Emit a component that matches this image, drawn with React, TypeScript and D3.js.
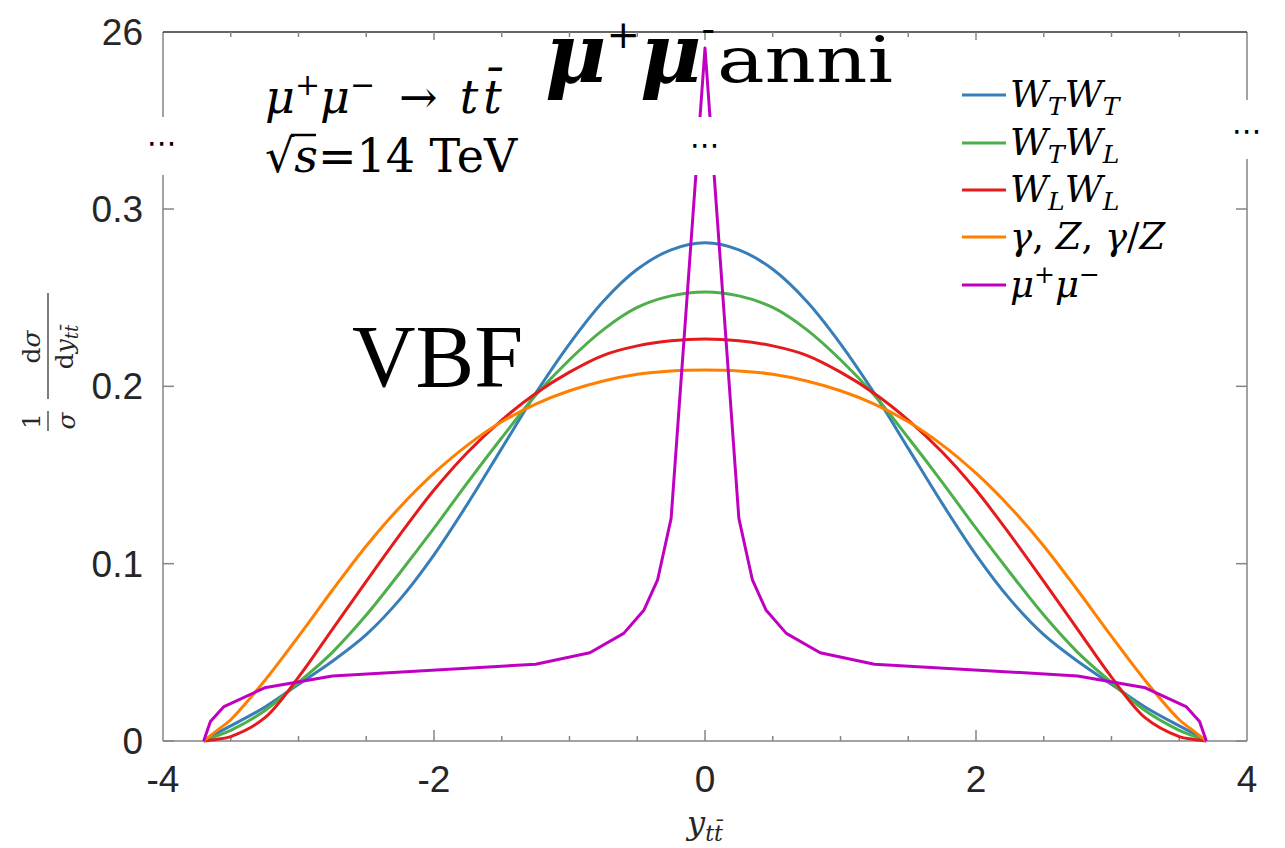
import React from "react";
import * as d3 from "d3";

// rapidity grid used for the VBF curves
const rapidity = [
  -3.7, -3.6, -3.5, -3.25, -3.0, -2.75, -2.5, -2.25, -2.0, -1.75, -1.5, -1.25, -1.0, -0.75, -0.5, -0.25, 0,
  0.25, 0.5, 0.75, 1.0, 1.25, 1.5, 1.75, 2.0, 2.25, 2.5, 2.75, 3.0, 3.25, 3.5, 3.6, 3.7,
];

const wtwt = [
  0, 0.0045, 0.0085, 0.019, 0.032, 0.045, 0.06, 0.08, 0.105, 0.134, 0.165, 0.196, 0.224, 0.248, 0.266, 0.277, 0.281,
  0.277, 0.266, 0.248, 0.224, 0.196, 0.165, 0.134, 0.105, 0.08, 0.06, 0.045, 0.032, 0.019, 0.0085, 0.0045, 0,
];
const wtwl = [
  0, 0.003, 0.006, 0.017, 0.033, 0.05, 0.071, 0.095, 0.12, 0.146, 0.171, 0.195, 0.215, 0.232, 0.2445, 0.251, 0.2532,
  0.251, 0.2445, 0.232, 0.215, 0.195, 0.171, 0.146, 0.12, 0.095, 0.071, 0.05, 0.033, 0.017, 0.006, 0.003, 0,
];
const wlwl = [
  0, 0.001, 0.0025, 0.013, 0.036, 0.063, 0.09, 0.1165, 0.1415, 0.163, 0.181, 0.196, 0.208, 0.2175, 0.2228, 0.2257, 0.2267,
  0.2257, 0.2228, 0.2175, 0.208, 0.196, 0.181, 0.163, 0.1415, 0.1165, 0.09, 0.063, 0.036, 0.013, 0.0025, 0.001, 0,
];
const gammaZ = [
  0, 0.006, 0.012, 0.034, 0.059, 0.085, 0.11, 0.132, 0.151, 0.167, 0.18, 0.19, 0.1975, 0.203, 0.2068, 0.2087, 0.2092,
  0.2087, 0.2068, 0.203, 0.1975, 0.19, 0.18, 0.167, 0.151, 0.132, 0.11, 0.085, 0.059, 0.034, 0.012, 0.006, 0,
];

// mu+ mu- annihilation: coarse grid, spike at y=0
const muX = [
  -3.7, -3.65, -3.55, -3.25, -2.75, -1.25, -0.85, -0.6, -0.45, -0.35, -0.25, 0,
  0.25, 0.35, 0.45, 0.6, 0.85, 1.25, 2.75, 3.25, 3.55, 3.65, 3.7,
];
const muY = [
  0, 0.011, 0.0194, 0.03, 0.0367, 0.0433, 0.0498, 0.0607, 0.0739, 0.0908, 0.1255, 24.87,
  0.1255, 0.0908, 0.0739, 0.0607, 0.0498, 0.0433, 0.0367, 0.03, 0.0194, 0.011, 0,
];

const xTicks = [-4, -2, 0, 2, 4];
const xMinorTicks = d3.range(-3.5, 4, 0.5);
const yTicks = [0, 0.1, 0.2, 0.3];
const yTopTick = 26;

const series = [
  { key: "wtwt", values: wtwt, color: "#377eb8" },
  { key: "wtwl", values: wtwl, color: "#4daf4a" },
  { key: "wlwl", values: wlwl, color: "#e41a1c" },
  { key: "gz", values: gammaZ, color: "#ff7f00" },
];
const muColor = "#c000c0";

const SERIF = "'DejaVu Serif', serif";
const TIMES = "'Liberation Serif', 'Times New Roman', serif";
const SANS = "'Liberation Sans', Arial, sans-serif";
const AXIS = "#858585";
const TXT = "#262626";

const W = 1285;
const H = 848;
const left = 163;
const right = 1247;
const top = 32;
const bottom = 741;
const breakLo = 175; // lower panel top
const breakHi = 117; // upper panel bottom

function Leg({ y, children }) {
  return (
    <text x={1010} y={y + 12} fontFamily={SERIF} fontStyle="italic" fontSize={37} fill="#000">
      {children}
    </text>
  );
}

export default function App() {
  const x = d3.scaleLinear().domain([-4, 4]).range([left, right]);
  const yLow = d3.scaleLinear().domain([0, 0.3]).range([bottom, 209]);
  const yHigh = d3.scaleLinear().domain([20, 26]).range([breakHi, top]);
  const breakVal = yLow.invert(breakLo);
  const yPos = (v) => (v <= breakVal ? yLow(v) : yHigh(v));

  const smooth = d3
    .line()
    .x((d) => x(d[0]))
    .y((d) => yPos(d[1]))
    .curve(d3.curveCatmullRom.alpha(0.5));
  const straight = d3
    .line()
    .x((d) => x(d[0]))
    .y((d) => yPos(d[1]));

  const legendRows = [95, 143, 190, 237, 285];
  const legendColors = [...series.map((s) => s.color), muColor];
  const sub = { fontSize: 25 };

  return (
    <svg
      width={W}
      height={H}
      style={{ position: "absolute", left: 0, top: 0, background: "#fff" }}
    >
      <defs>
        <clipPath id="plotclip">
          <rect x={left} y={breakLo} width={right - left} height={bottom - breakLo + 2} />
          <rect x={left} y={top} width={right - left} height={breakHi - top} />
        </clipPath>
      </defs>
      <rect width={W} height={H} fill="#fff" />

      {/* axes frame with breaks */}
      <g stroke={AXIS} strokeWidth={1.5} fill="none">
        <line x1={left} x2={left} y1={top} y2={breakHi} />
        <line x1={left} x2={left} y1={breakLo} y2={bottom} />
        <line x1={right} x2={right} y1={top} y2={100} />
        <line x1={right} x2={right} y1={159} y2={bottom} />
        <line x1={left} x2={right} y1={bottom} y2={bottom} />
      </g>
      <line x1={left} x2={right} y1={top} y2={top} stroke="#333" strokeWidth={1.5} />

      {/* ticks */}
      <g stroke={AXIS} strokeWidth={1.5}>
        {xMinorTicks.map((t) => (
          <g key={"m" + t}>
            <line x1={x(t)} x2={x(t)} y1={bottom} y2={bottom - (t % 2 === 0 ? 11 : 5)} />
            <line x1={x(t)} x2={x(t)} y1={top} y2={top + (t % 2 === 0 ? 8 : 5)} />
          </g>
        ))}
        {yTicks.map((t) => (
          <g key={"y" + t}>
            <line x1={left} x2={left + 11} y1={yLow(t)} y2={yLow(t)} />
            <line x1={right} x2={right - 11} y1={yLow(t)} y2={yLow(t)} />
          </g>
        ))}
      </g>

      {/* tick labels */}
      <g fontFamily={SANS} fontSize={37} fill={TXT}>
        {xTicks.map((t) => (
          <text key={t} x={x(t)} y={792} textAnchor="middle">
            {t < 0 ? "-" + Math.abs(t) : t}
          </text>
        ))}
        {yTicks.map((t) => (
          <text key={t} x={143} y={yLow(t) + 13} textAnchor="end">
            {t === 0 ? "0" : t.toFixed(1)}
          </text>
        ))}
        <text x={143} y={yHigh(yTopTick) + 13} textAnchor="end">
          {yTopTick}
        </text>
      </g>

      {/* data */}
      <g clipPath="url(#plotclip)" fill="none" strokeWidth={3} strokeLinejoin="round">
        {series.map((s) => (
          <path
            key={s.key}
            d={smooth(rapidity.map((r, i) => [r, s.values[i]]))}
            stroke={s.color}
          />
        ))}
        <path d={straight(muX.map((r, i) => [r, muY[i]]))} stroke={muColor} />
      </g>

      {/* break marks */}
      <g fontFamily="'DejaVu Sans', sans-serif" fontSize={30} fill="#000" textAnchor="middle">
        <text x={left - 1} y={153}>⋯</text>
        <text x={x(0)} y={155}>⋯</text>
        <text x={right} y={141}>⋯</text>
      </g>

      {/* legend */}
      <g>
        {legendRows.map((ly, i) => (
          <line key={i} x1={962} x2={1006} y1={ly} y2={ly} stroke={legendColors[i]} strokeWidth={3} />
        ))}
      </g>
      <Leg y={legendRows[0]}>
        W<tspan {...sub} dy={8}>T</tspan>
        <tspan dy={-8}>W</tspan>
        <tspan {...sub} dy={8}>T</tspan>
      </Leg>
      <Leg y={legendRows[1]}>
        W<tspan {...sub} dy={8}>T</tspan>
        <tspan dy={-8}>W</tspan>
        <tspan {...sub} dy={8}>L</tspan>
      </Leg>
      <Leg y={legendRows[2]}>
        W<tspan {...sub} dy={8}>L</tspan>
        <tspan dy={-8}>W</tspan>
        <tspan {...sub} dy={8}>L</tspan>
      </Leg>
      <Leg y={legendRows[3]}>
        γ<tspan fontStyle="normal">, </tspan>Z<tspan fontStyle="normal">, </tspan>γ<tspan fontStyle="normal">/</tspan>Z
      </Leg>
      <Leg y={legendRows[4]}>
        μ<tspan {...sub} fontStyle="normal" dy={-14}>+</tspan>
        <tspan dy={14}>μ</tspan>
        <tspan {...sub} fontStyle="normal" dy={-14}>−</tspan>
      </Leg>

      {/* process annotation */}
      <text x={265} y={113} fontFamily={SERIF} fontSize={46} fill="#000">
        <tspan fontStyle="italic">μ</tspan>
        <tspan fontSize={30} dy={-18}>+</tspan>
        <tspan fontStyle="italic" dy={18}>μ</tspan>
        <tspan fontSize={30} dy={-18}>−</tspan>
        <tspan dy={18} dx={24}>→</tspan>
        <tspan fontStyle="italic" dx={22} letterSpacing={5}>tt̄</tspan>
      </text>
      <text x={265} y={172} fontFamily={SERIF} fontSize={46} fill="#000">
        √<tspan fontStyle="italic">s</tspan>=14 TeV
      </text>
      <line x1={291} x2={316} y1={135} y2={135} stroke="#000" strokeWidth={2.5} />

      <text x={352} y={386} fontFamily={TIMES} fontSize={88} fill="#000">
        VBF
      </text>

      <text x={545} y={82} fontFamily={SERIF} fill="#000">
        <tspan fontSize={84} fontWeight="bold" fontStyle="italic">μ</tspan>
        <tspan fontSize={40} dy={-34}>+</tspan>
        <tspan fontSize={84} fontWeight="bold" fontStyle="italic" dy={34}>μ</tspan>
        <tspan fontSize={40} dy={-40}>-</tspan>
      </text>
      <text
        x={717}
        y={82}
        fontFamily={SERIF}
        fontSize={64}
        fill="#000"
        textLength={176}
        lengthAdjust="spacingAndGlyphs"
      >
        anni
      </text>

      {/* axis titles */}
      <text x={705} y={834} textAnchor="middle" fontFamily={SERIF} fontStyle="italic" fontSize={32} fill={TXT}>
        y<tspan fontSize={22} dy={7}>tt̄</tspan>
      </text>
      <g transform="translate(48,385) rotate(-90)" fontFamily={SERIF} fontSize={25} fill={TXT}>
        <text x={-36} y={-8} textAnchor="middle">1</text>
        <line x1={-46} x2={-26} y1={0} y2={0} stroke={TXT} strokeWidth={1.2} />
        <text x={-36} y={27} textAnchor="middle" fontStyle="italic">σ</text>
        <text x={38} y={-8} textAnchor="middle">
          d<tspan fontStyle="italic">σ</tspan>
        </text>
        <line x1={-14} x2={92} y1={0} y2={0} stroke={TXT} strokeWidth={1.2} />
        <text x={38} y={25} textAnchor="middle">
          d<tspan fontStyle="italic">y</tspan>
          <tspan fontStyle="italic" fontSize={18} dy={5}>tt̄</tspan>
        </text>
      </g>
    </svg>
  );
}
